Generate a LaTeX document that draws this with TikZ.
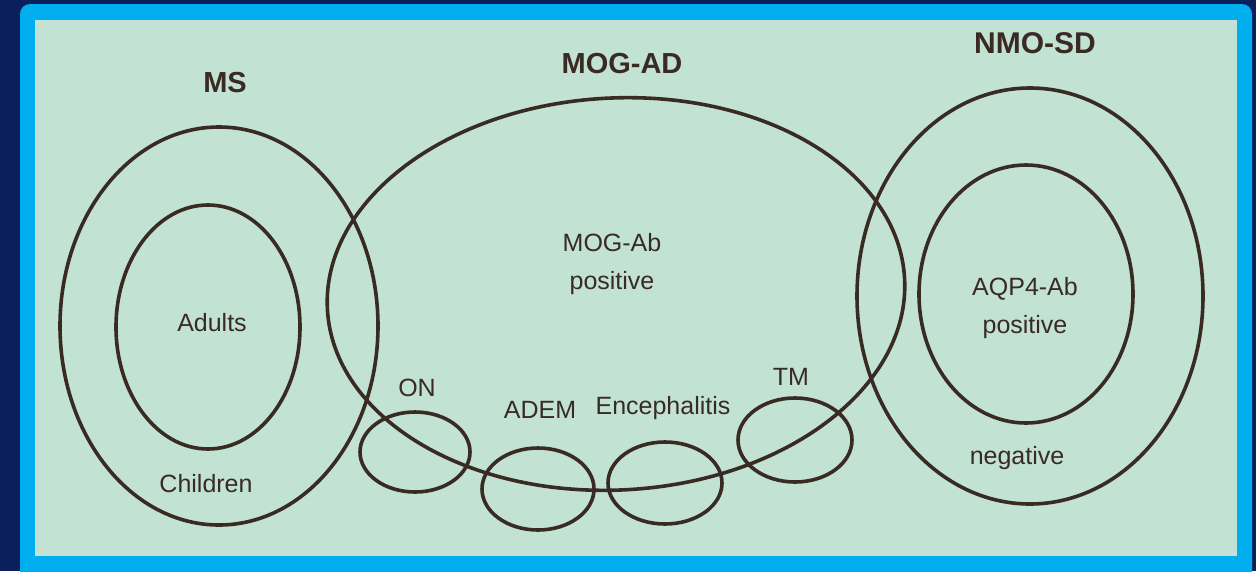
\documentclass[tikz,border=0pt]{standalone}
\usepackage{fontspec}
\setmainfont{Liberation Sans}
\usetikzlibrary{shapes.geometric}
\definecolor{navy}{HTML}{0A1F5C}
\definecolor{cyanframe}{HTML}{00AEEF}
\definecolor{panel}{HTML}{C2E3D4}
\definecolor{ink}{HTML}{3A2A24}
\tikzset{
  ring/.style={ellipse, draw=ink, line width=3.6pt, inner sep=0pt, fill=none},
  title/.style={text=ink, font=\bfseries\fontsize{29}{34}\selectfont, inner sep=0pt},
  lab/.style={text=ink, font=\fontsize{25}{38}\selectfont, inner sep=0pt, align=center},
}
\begin{document}
\begin{tikzpicture}[x=1pt, y=-1pt]
\useasboundingbox (0,0) rectangle (1256,571);
\fill[navy] (0,0) rectangle (1256,571);
\fill[cyanframe, rounded corners=10pt] (20,4) rectangle (1252,600);
\fill[panel] (35,20) rectangle (1237,556);

% MS
\node[ring, minimum width=318pt, minimum height=398pt] (msout) at (219,326) {};
\node[ring, minimum width=184pt, minimum height=244pt] (msin) at (208,327) {};
\node[title] (mst) at (225,83) {MS};
\node[lab] (adults) at (212,323) {Adults};
\node[lab] (children) at (206,484) {Children};

% MOG-AD
\node[ring, minimum width=578pt, minimum height=392pt, rotate=3] (mog) at (616,294) {};
\node[title] (mogt) at (622,64) {MOG-AD};
\node[lab] (mogab) at (612,264) {MOG-Ab\\positive};

% small ellipses
\node[ring, minimum width=110pt, minimum height=80pt] (on) at (415,452) {};
\node[ring, minimum width=112pt, minimum height=82pt] (adem) at (538,489) {};
\node[ring, minimum width=114pt, minimum height=82pt] (enc) at (665,483) {};
\node[ring, minimum width=114pt, minimum height=84pt] (tm) at (795,440) {};
\node[lab] (ont) at (417,388) {ON};
\node[lab] (ademt) at (540,410) {ADEM};
\node[lab] (enct) at (663,408) {Encephalitis};
\node[lab] (tmt) at (791,377) {TM};

% NMO-SD
\node[ring, minimum width=346pt, minimum height=416pt] (nmoout) at (1030,296) {};
\node[ring, minimum width=214pt, minimum height=258pt] (nmoin) at (1026,294) {};
\node[title, font=\bfseries\fontsize{30}{34}\selectfont] (nmot) at (1035,43) {NMO-SD};
\node[lab] (aqp) at (1025,308) {AQP4-Ab\\positive};
\node[lab] (neg) at (1017,458) {negative};
\end{tikzpicture}
\end{document}
